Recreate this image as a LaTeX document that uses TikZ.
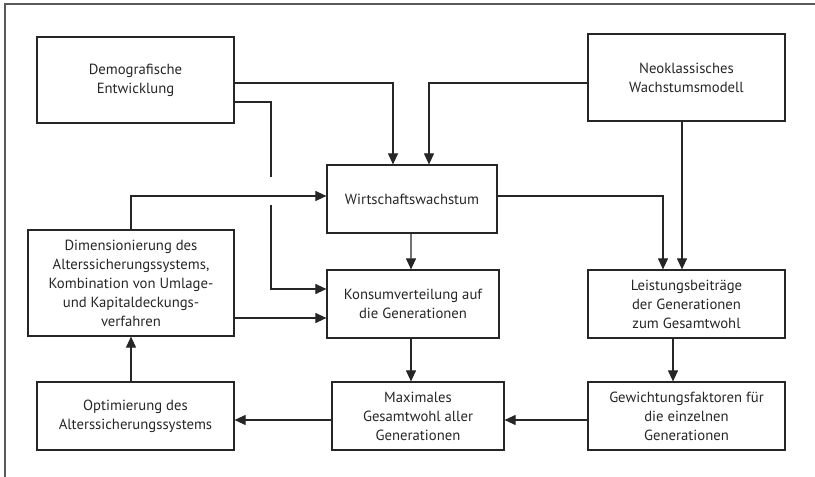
\documentclass[tikz,border=0pt]{standalone}
\usepackage{fontspec}
\setmainfont{PT Sans}
\usetikzlibrary{arrows.meta}
\begin{document}
\begin{tikzpicture}[x=1bp,y=-1bp,
  box/.style={draw=black!85, line width=1.2bp, inner sep=0pt, align=center,
    font=\fontsize{14.7bp}{19bp}\selectfont, text=black!85},
  conn/.style={draw=black!85, line width=1.1bp},
  arr/.style={conn, -{Triangle[length=11bp,width=10bp]}}]
\useasboundingbox (0,0) rectangle (815,477);
\draw[black!65, line width=1.2bp] (815,4) -- (5,4) -- (5,477);
\node[box, minimum width=197bp, minimum height=86bp] (demo) at (135.5,80) {Demografische\\Entwicklung};
\node[box, minimum width=197bp, minimum height=87bp] (neo) at (686.5,77.5) {Neoklassisches\\Wachstumsmodell};
\node[box, minimum width=170bp, minimum height=68bp] (wirt) at (412,199) {Wirtschaftswachstum};
\node[box, minimum width=206bp, minimum height=106bp] (dim) at (131,283) {Dimensionierung des\\Alterssicherungssystems,\\Kombination von Umlage-\\und Kapitaldeckungs-\\verfahren};
\node[box, minimum width=172bp, minimum height=68bp] (kons) at (413,304) {Konsumverteilung auf\\die Generationen};
\node[box, minimum width=197bp, minimum height=68bp] (leist) at (686.5,304) {Leistungsbeiträge\\der Generationen\\zum Gesamtwohl};
\node[box, minimum width=197bp, minimum height=68bp] (opt) at (135.5,416) {Optimierung des\\Alterssicherungssystems};
\node[box, minimum width=172bp, minimum height=68bp] (max) at (418,416) {Maximales\\Gesamtwohl aller\\Generationen};
\node[box, minimum width=197bp, minimum height=68bp] (gew) at (686.5,416) {Gewichtungsfaktoren für\\die einzelnen\\Generationen};
\coordinate (j1) at (271,177);
\coordinate (j2) at (271,205);
\coordinate (k2) at ([yshift=-14bp]kons.west);
% arrows
\draw[arr] ([yshift=-3bp]demo.east) -| ([xshift=-19bp]wirt.north);
\draw[arr] ([yshift=-5.5bp]neo.west) -| ([xshift=17bp]wirt.north);
\draw[conn] ([yshift=-22bp]demo.east) -| (j1);
\draw[arr] (j2) |- ([yshift=15bp]kons.west);
\draw[arr] (dim.north) |- ([yshift=3bp]wirt.west);
\draw[arr] ([yshift=3bp]wirt.east) -| ([xshift=-23.5bp]leist.north);
\draw[arr] ([xshift=-4.5bp]neo.south) -- ([xshift=-4.5bp]leist.north);
\draw[arr] ([xshift=-1bp]wirt.south) -- ([xshift=-2bp]kons.north);
\draw[arr] (dim.east |- k2) -- (k2);
\draw[arr] ([xshift=-2bp]kons.south) -- ([xshift=-2bp]kons.south |- max.north);
\draw[arr] ([xshift=-13.5bp]leist.south) -- ([xshift=-13.5bp]gew.north);
\draw[arr] ([yshift=-4bp]gew.west) -- ([yshift=-4bp]max.east);
\draw[arr] ([yshift=-4bp]max.west) -- ([yshift=-4bp]opt.east);
\draw[arr] (dim.south |- opt.north) -- (dim.south);
\end{tikzpicture}
\end{document}
